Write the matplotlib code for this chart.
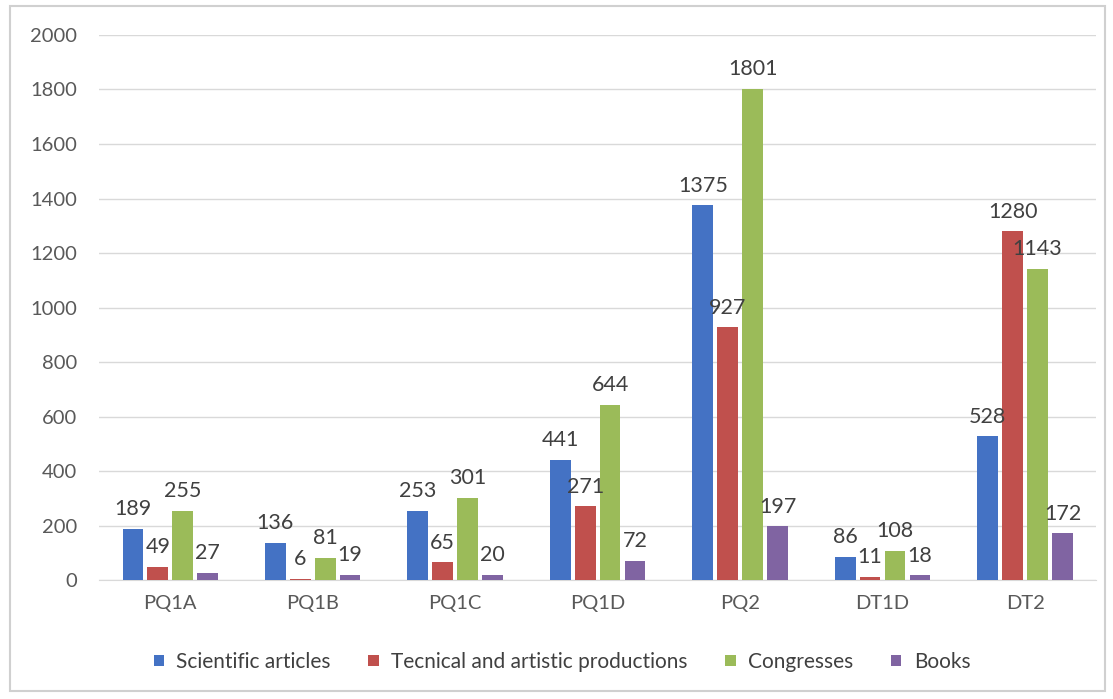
import numpy as np
import matplotlib.pyplot as plt
from matplotlib.patches import Rectangle

plt.rcParams['font.family'] = ['Lato', 'DejaVu Sans']

# Datos
categorias = ["PQ1A", "PQ1B", "PQ1C", "PQ1D", "PQ2", "DT1D", "DT2"]
series = ["Scientific articles", "Tecnical and artistic productions", "Congresses", "Books"]
articulos = [189, 136, 253, 441, 1375, 86, 528]
producciones = [49, 6, 65, 271, 927, 11, 1280]
congresos = [255, 81, 301, 644, 1801, 108, 1143]
libros = [27, 19, 20, 72, 197, 18, 172]
colores = ["#4472C4", "#C0504D", "#9BBB59", "#8064A2"]

valores = [articulos, producciones, congresos, libros]

fig = plt.figure(figsize=(11.13, 6.99), dpi=100)
ax = fig.add_axes([0.089, 0.170, 0.896, 0.780])

x = np.arange(len(categorias))
paso = 0.175
ancho = 0.145
for i, (nombre, datos, color) in enumerate(zip(series, valores, colores)):
    pos = x + (i - 1.5) * paso
    barras = ax.bar(pos, datos, width=ancho, color=color, label=nombre, zorder=3)
    for b, v in zip(barras, datos):
        ax.annotate(str(v), (b.get_x() + b.get_width() / 2, v),
                    xytext=(0, 7), textcoords="offset points",
                    ha="center", va="bottom", fontsize=15.5, color="#404040", zorder=4)

ax.set_xlim(-0.5, len(categorias) - 0.5)
ax.set_ylim(0, 2000)
ax.set_yticks(range(0, 2001, 200))
ax.set_xticks(x)
ax.set_xticklabels(categorias)
ax.tick_params(axis="both", length=0, labelsize=14.5, colors="#595959")
ax.tick_params(axis="x", pad=11)
ax.tick_params(axis="y", pad=16)
ax.grid(axis="y", color="#D9D9D9", linewidth=1, zorder=0)
for lado in ["top", "right", "left"]:
    ax.spines[lado].set_visible(False)
ax.spines["bottom"].set_color("#D9D9D9")

fig.legend(loc="center", bbox_to_anchor=(0.505, 0.053), ncol=4, frameon=False,
           fontsize=15, handlelength=0.5, handleheight=0.5, handletextpad=0.6,
           columnspacing=1.8, labelcolor="#404040")

# Marco exterior del gráfico
fig.patches.append(Rectangle((0.009, 0.012), 0.984, 0.98, transform=fig.transFigure,
                             fill=False, edgecolor="#D0D0D0", linewidth=1.5))

fig.savefig("out.png", dpi=100)
